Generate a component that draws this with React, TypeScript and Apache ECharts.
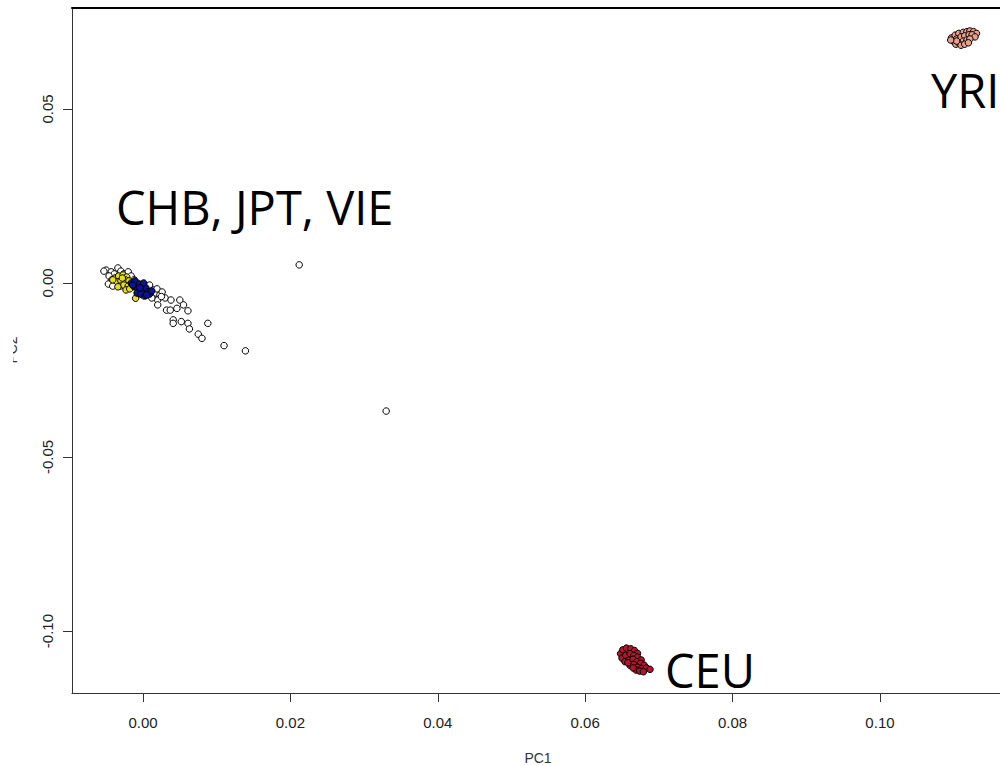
import React, { useEffect, useRef } from "react";
import * as echarts from "echarts";

// PC1 / PC2 values
const otherPoints: [number, number][] = [
  [-0.005, 0.0037], [-0.0043, 0.0032], [-0.0034, 0.0043], [-0.0039, 0.0026], [-0.003, 0.0034],
  [-0.0046, 0.002], [-0.0037, 0.0014], [-0.0026, 0.0026], [-0.002, 0.0032], [-0.0042, 0.0009],
  [-0.0033, 0.0003], [-0.0023, 0.0011], [-0.0016, 0.002], [-0.0012, 0.0009], [-0.0028, -0.0006],
  [-0.0019, -0.0009], [-0.0008, 0.0], [-0.0003, -0.0011], [0.0004, -0.0017], [0.0009, -0.0006],
  [0.0014, -0.002], [0.0018, -0.0029], [0.0023, -0.0034], [0.0008, -0.0032], [0.0001, -0.0037],
  [0.0019, -0.0017], [0.0026, -0.0026], [0.003, -0.0043], [0.002, -0.0049], [0.0012, -0.0043],
  [0.0025, -0.0039], [0.0038, -0.0049], [0.005, -0.0049], [0.0055, -0.0063], [0.0061, -0.008],
  [0.0032, -0.0078], [0.0037, -0.0078], [0.0046, -0.0073], [0.002, -0.0063], [0.0041, -0.0106],
  [0.0041, -0.0116], [0.0052, -0.0111], [0.0061, -0.0116], [0.0088, -0.0116], [0.0063, -0.0132],
  [0.0075, -0.0147], [0.008, -0.0159], [0.011, -0.018], [0.0139, -0.0195], [0.0212, 0.0052],
  [0.033, -0.0368], [-0.0047, -0.0003], [-0.0041, -0.0009], [-0.0053, 0.0034],
];

const chbPoints: [number, number][] = [
  [-0.0038, 0.0014], [-0.0033, 0.002], [-0.0027, 0.0023], [-0.0022, 0.0017], [-0.0035, 0.0003],
  [-0.003, 0.0006], [-0.0024, 0.0009], [-0.0019, 0.0006], [-0.0031, -0.0009], [-0.0026, -0.0006],
  [-0.002, -0.0009], [-0.0015, -0.0003], [-0.0023, -0.002], [-0.0034, -0.0011], [-0.0018, -0.0017],
  [-0.001, -0.0044], [-0.0041, 0.0009], [-0.0028, 0.0014],
];

const jptPoints: [number, number][] = [
  [-0.0016, 0.0], [-0.0011, 0.0006], [-0.0005, -0.0003], [0.0, -0.0009], [-0.0012, -0.0011],
  [-0.0007, -0.0017], [-0.0001, -0.002], [0.0004, -0.0014], [0.0007, -0.0026], [-0.0008, -0.0029],
  [-0.0003, -0.0032], [0.0003, -0.0037], [0.0009, -0.0032], [0.0012, -0.0023], [-0.0014, -0.0006],
  [0.0001, 0.0], [-0.0004, -0.0014], [0.0005, -0.0034],
];

const yriPoints: [number, number][] = [
  [0.1097, 0.0704], [0.1102, 0.0712], [0.1107, 0.0717], [0.1113, 0.072], [0.1118, 0.0722],
  [0.1122, 0.0724], [0.1127, 0.0722], [0.1131, 0.0717], [0.11, 0.0694], [0.1104, 0.0701],
  [0.111, 0.0707], [0.1115, 0.071], [0.1121, 0.0713], [0.1125, 0.0713], [0.1129, 0.0707],
  [0.1103, 0.0686], [0.1107, 0.069], [0.1113, 0.0695], [0.1118, 0.0698], [0.1122, 0.0701],
  [0.111, 0.0683], [0.1115, 0.0686], [0.112, 0.069], [0.1104, 0.0695], [0.1096, 0.0698],
];

const ceuPoints: [number, number][] = [
  [0.0648, -0.1065], [0.0651, -0.1054], [0.0656, -0.1049], [0.0662, -0.1051], [0.0667, -0.1056],
  [0.0671, -0.1064], [0.065, -0.1078], [0.0655, -0.107], [0.0661, -0.1065], [0.0666, -0.107],
  [0.0671, -0.1075], [0.0676, -0.1083], [0.0654, -0.1088], [0.0659, -0.1084], [0.0665, -0.1081],
  [0.067, -0.1088], [0.0675, -0.1093], [0.068, -0.1098], [0.0661, -0.1099], [0.0666, -0.1096],
  [0.0671, -0.1104], [0.0676, -0.1108], [0.0683, -0.1106], [0.0688, -0.111], [0.0669, -0.1112],
  [0.0674, -0.1115], [0.0679, -0.1117], [0.0658, -0.1091], [0.0665, -0.1106],
];

const xTicks = [0, 0.02, 0.04, 0.06, 0.08, 0.1];
const yTicks = [-0.1, -0.05, 0, 0.05];

const X_MIN = -0.00963;
const X_MAX = 0.11683;
const Y_MIN = -0.1178;
const Y_MAX = 0.079;

const labelFont = "'Liberation Sans', Arial, sans-serif";
const annotFont = "'Open Sans', 'Noto Sans', sans-serif";

export default function App() {
  const ref = useRef<HTMLDivElement>(null);

  useEffect(() => {
    if (!ref.current) return;
    const chart = echarts.init(ref.current, null, { renderer: "svg" });
    const sc = (name: string, data: [number, number][], color: string) => ({
      name,
      type: "scatter",
      data,
      symbol: "circle",
      symbolSize: 6.5,
      itemStyle: { color, borderColor: "#000", borderWidth: 1, opacity: 1 },
      emphasis: { disabled: true },
    });
    chart.setOption({
      animation: false,
      backgroundColor: "#ffffff",
      grid: {
        left: 72,
        top: 8,
        width: 932,
        height: 685,
        containLabel: false,
        outerBoundsMode: "none",
      },
      xAxis: [
        {
          type: "value",
          min: X_MIN,
          max: X_MAX,
          name: "PC1",
          nameLocation: "middle",
          nameGap: 58,
          nameTextStyle: { fontFamily: labelFont, fontSize: 14, color: "#333" },
          splitLine: { show: false },
          axisLine: { show: true, onZero: false, lineStyle: { color: "#333", width: 1 } },
          axisTick: { show: true, length: 9, customValues: xTicks, lineStyle: { color: "#333" } },
          axisLabel: {
            customValues: xTicks,
            margin: 22,
            fontFamily: labelFont,
            fontSize: 15,
            color: "#222",
            formatter: (v: number) => v.toFixed(2),
          },
        },
        {
          type: "value",
          position: "top",
          min: X_MIN,
          max: X_MAX,
          splitLine: { show: false },
          axisLine: { show: true, onZero: false, lineStyle: { color: "#000", width: 2 } },
          axisTick: { show: false },
          axisLabel: { show: false },
        },
      ],
      yAxis: {
        type: "value",
        min: Y_MIN,
        max: Y_MAX,
        splitLine: { show: false },
        axisLine: { show: true, onZero: false, lineStyle: { color: "#333", width: 1 } },
        axisTick: { show: true, length: 9, customValues: yTicks, lineStyle: { color: "#333" } },
        axisLabel: {
          customValues: yTicks,
          rotate: 90,
          margin: 17,
          fontFamily: labelFont,
          fontSize: 15,
          color: "#222",
          formatter: (v: number) => v.toFixed(2),
        },
      },
      series: [
        sc("Other", otherPoints, "#ffffff"),
        sc("CHB", chbPoints, "#e8dc1e"),
        sc("JPT", jptPoints, "#0c1496"),
        sc("CEU", ceuPoints, "#b3142e"),
        sc("YRI", yriPoints, "#e8a08c"),
      ],
      graphic: [
        {
          type: "text",
          x: 12,
          y: 350,
          rotation: Math.PI / 2,
          style: {
            text: "PC2",
            fontFamily: labelFont,
            fontSize: 14,
            fill: "#333",
            align: "center",
            verticalAlign: "middle",
          },
        },
        {
          type: "rect",
          shape: { x: 0, y: 0, width: 13, height: 766 },
          style: { fill: "#ffffff" },
          z: 100,
        },
        {
          type: "text",
          x: 116,
          y: 207,
          style: {
            text: "CHB, JPT, VIE",
            fontFamily: annotFont,
            fontSize: 47,
            fill: "#000",
            align: "left",
            verticalAlign: "middle",
          },
        },
        {
          type: "text",
          x: 931,
          y: 90,
          style: {
            text: "YRI",
            fontFamily: annotFont,
            fontSize: 47,
            fill: "#000",
            align: "left",
            verticalAlign: "middle",
          },
        },
        {
          type: "text",
          x: 665,
          y: 670,
          style: {
            text: "CEU",
            fontFamily: annotFont,
            fontSize: 47,
            fill: "#000",
            align: "left",
            verticalAlign: "middle",
          },
        },
      ],
    });
    return () => chart.dispose();
  }, []);

  return (
    <div
      style={{
        position: "fixed",
        left: 0,
        top: 0,
        width: 1000,
        height: 766,
        overflow: "hidden",
        background: "#fff",
      }}
    >
      <div ref={ref} style={{ width: 1010, height: 766 }} />
    </div>
  );
}
